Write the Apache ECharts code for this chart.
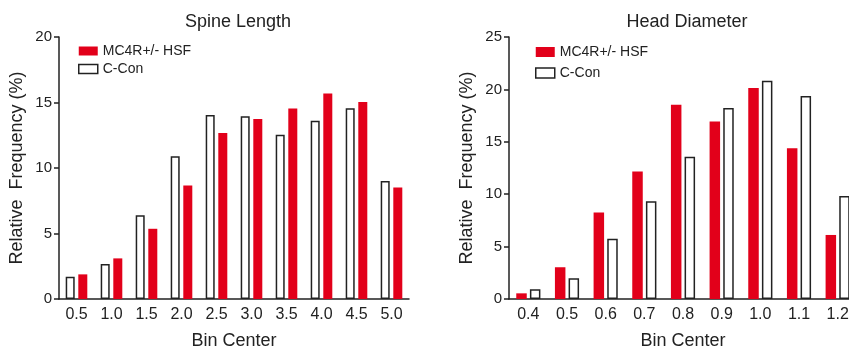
<!DOCTYPE html>
<html>
<head>
<meta charset="utf-8">
<script src="https://cdn.jsdelivr.net/npm/echarts@6/dist/echarts.min.js"></script>
<style>
  html, body { margin: 0; padding: 0; background: #fff; }
  #chart { width: 849px; height: 350px; }
</style>
</head>
<body>
<div id="chart"></div>
<script>
// Spine Length panel
const spineBins = ["0.5", "1.0", "1.5", "2.0", "2.5", "3.0", "3.5", "4.0", "4.5", "5.0"];
const spineCon = [1.7, 2.67, 6.4, 10.9, 14.05, 13.95, 12.53, 13.6, 14.56, 9.0];
const spineHsf = [1.88, 3.1, 5.36, 8.67, 12.68, 13.75, 14.54, 15.68, 15.04, 8.51];
const spineTicks = [0, 5, 10, 15, 20];

// Head Diameter panel
const headBins = ["0.4", "0.5", "0.6", "0.7", "0.8", "0.9", "1.0", "1.1", "1.2"];
const headHsf = [0.54, 3.03, 8.25, 12.17, 18.54, 16.94, 20.13, 14.39, 6.11];
const headCon = [0.92, 1.97, 5.76, 9.33, 13.57, 18.22, 20.83, 19.36, 9.84];
const headTicks = [0, 5, 10, 15, 20, 25];

const RED = "#e2001a";
const INK = "#222";
const FONT = "Liberation Sans, Arial, sans-serif";

const chart = echarts.init(document.getElementById("chart"));

function xAxisFor(idx, bins) {
  return {
    type: "category",
    gridIndex: idx,
    data: bins,
    name: "Bin Center",
    nameLocation: "middle",
    nameGap: 33,
    nameTextStyle: { color: INK, fontSize: 18, fontFamily: FONT },
    axisLine: { lineStyle: { color: INK, width: 1.5 } },
    axisTick: { alignWithLabel: true, length: 5, lineStyle: { color: INK, width: 1.5 } },
    axisLabel: { color: INK, fontSize: 16, fontFamily: FONT, margin: 8 }
  };
}

function yAxisFor(idx, ticks, gap) {
  return {
    type: "value",
    gridIndex: idx,
    min: ticks[0],
    max: ticks[ticks.length - 1],
    interval: ticks[1] - ticks[0],
    name: "Relative  Frequency (%)",
    nameLocation: "middle",
    nameGap: gap,
    nameTextStyle: { color: INK, fontSize: 18, fontFamily: FONT },
    splitLine: { show: false },
    axisLine: { show: true, lineStyle: { color: INK, width: 1.5 } },
    axisTick: { show: true, length: 5, lineStyle: { color: INK, width: 1.5 } },
    axisLabel: { color: INK, fontSize: 15, fontFamily: FONT, margin: 7 }
  };
}

const redStyle = { color: RED };
const whiteStyle = { color: "#fff", borderColor: INK, borderWidth: 1.5 };

chart.setOption({
  backgroundColor: "#fff",
  animation: false,
  title: [
    { text: "Spine Length", left: 233, top: 8, textAlign: "center",
      textStyle: { color: INK, fontSize: 18, fontWeight: "normal", fontFamily: FONT } },
    { text: "Head Diameter", left: 682, top: 8, textAlign: "center",
      textStyle: { color: INK, fontSize: 18, fontWeight: "normal", fontFamily: FONT } }
  ],
  legend: [
    {
      left: 73, top: 39, orient: "vertical", itemWidth: 19, itemHeight: 9, itemGap: 4,
      textStyle: { color: INK, fontSize: 14, fontFamily: FONT },
      data: [
        { name: "MC4R+/- HSF", icon: "rect", itemStyle: redStyle },
        { name: "C-Con", icon: "rect", itemStyle: whiteStyle }
      ]
    },
    {
      left: 530, top: 40, orient: "vertical", itemWidth: 19, itemHeight: 10, itemGap: 7,
      textStyle: { color: INK, fontSize: 14, fontFamily: FONT },
      data: [
        { name: "MC4R+/- HSF", icon: "rect", itemStyle: redStyle },
        { name: "C-Con", icon: "rect", itemStyle: whiteStyle }
      ]
    }
  ],
  grid: [
    { left: 59, right: 440, top: 37, bottom: 51, outerBoundsMode: "none" },
    { left: 509, right: -8, top: 37, bottom: 51, outerBoundsMode: "none" }
  ],
  xAxis: [xAxisFor(0, spineBins), xAxisFor(1, headBins)],
  yAxis: [yAxisFor(0, spineTicks, 33), yAxisFor(1, headTicks, 33)],
  series: [
    { name: "C-Con", type: "bar", xAxisIndex: 0, yAxisIndex: 0, data: spineCon,
      barWidth: 9, barGap: "40%", itemStyle: whiteStyle },
    { name: "MC4R+/- HSF", type: "bar", xAxisIndex: 0, yAxisIndex: 0, data: spineHsf,
      barWidth: 9, barGap: "40%", itemStyle: redStyle },
    { name: "MC4R+/- HSF", type: "bar", xAxisIndex: 1, yAxisIndex: 1, data: headHsf,
      barWidth: 10.5, barGap: "30%", itemStyle: redStyle },
    { name: "C-Con", type: "bar", xAxisIndex: 1, yAxisIndex: 1, data: headCon,
      barWidth: 10.5, barGap: "30%", itemStyle: whiteStyle }
  ]
});
</script>
</body>
</html>
